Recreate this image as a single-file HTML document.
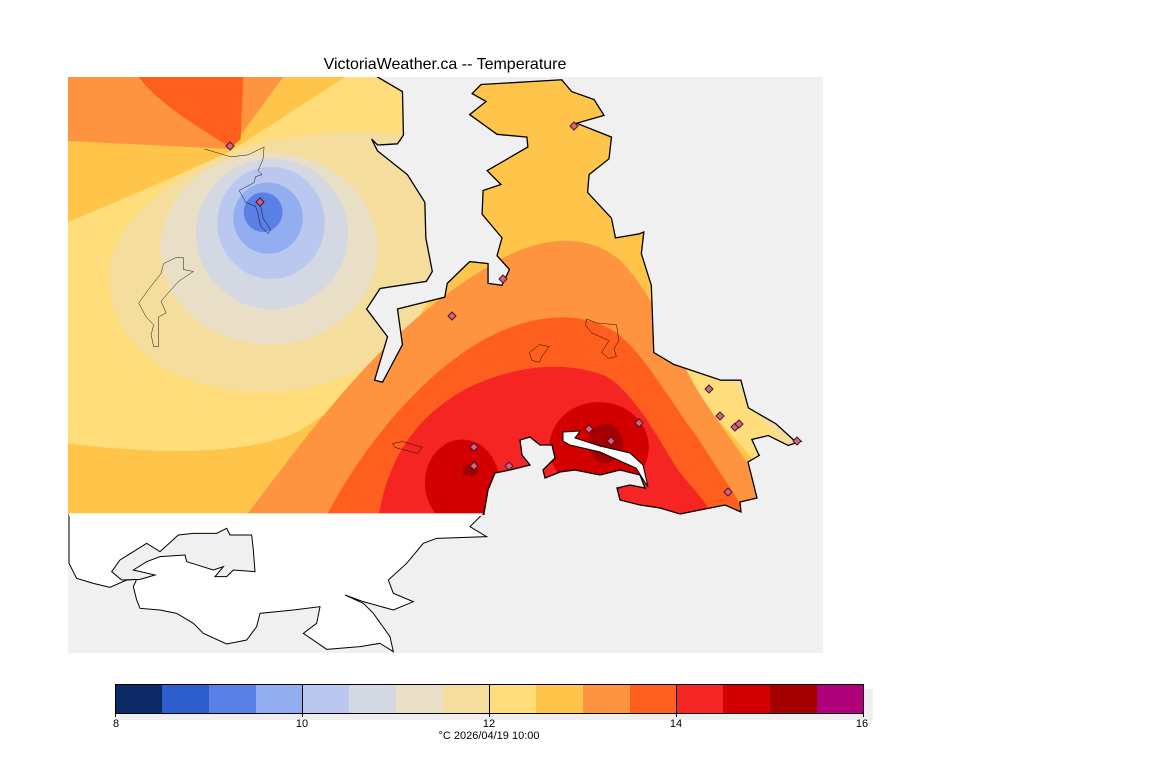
<!DOCTYPE html>
<html><head><meta charset="utf-8"><style>
html,body{margin:0;padding:0;background:#fff;width:1152px;height:768px;overflow:hidden}
svg{display:block;font-family:"Liberation Sans",sans-serif}
</style></head><body>
<svg width="1152" height="768" viewBox="0 0 1152 768" xmlns="http://www.w3.org/2000/svg">
<defs>
<clipPath id="top"><rect x="68" y="77" width="755" height="438"/></clipPath>
</defs>
<rect x="68" y="77" width="755" height="576" fill="#f0f0f0"/>
<g clip-path="url(#top)">
<g transform="translate(59.04,40.24) scale(0.4977,0.3953)">
<rect x="0" y="80" width="1560" height="1140" fill="#fec54a"/>
<path d="M18,93 L450,93 L345,275 L18,255 Z" fill="#fe943f"/>
<path d="M160,93 L370,93 L365,250 L345,272 C280,220 200,160 160,93 Z" fill="#fe5f1e"/>
<path d="M18,460 C150,390 280,320 345,280 L575,93 L720,93 C760,300 780,450 760,560 C720,760 600,900 480,990 C360,1060 150,1040 18,1020 Z" fill="#fedd7a"/>
<path d="M345,285 C420,240 620,210 730,250 L780,500 C760,700 650,880 420,890 C200,890 100,750 100,600 C100,450 250,330 345,285 Z" fill="#f5dd9e"/>
<ellipse cx="422" cy="527" rx="218" ry="242" fill="#e8dfc6"/>
<ellipse cx="428" cy="490" rx="153" ry="190" fill="#d3d8e3"/>
<ellipse cx="426" cy="462" rx="108" ry="142" fill="#bac8f0"/>
<ellipse cx="420" cy="450" rx="70" ry="90" fill="#93aef0"/>
<ellipse cx="410" cy="435" rx="39" ry="50" fill="#5a7fe6"/>
<path d="M1200,790 C1260,880 1330,960 1400,1070 L1560,1070 L1560,790 Z" fill="#fedd7a"/>
<path d="M1330,820 C1370,900 1410,960 1460,1020 L1560,1020 L1560,820 Z" fill="#f5dd9e"/>
<path d="M365,1220 C500,1000 650,720 880,560 C960,500 1060,480 1130,560 C1200,650 1240,800 1290,900 C1340,1000 1400,1080 1450,1220 Z" fill="#fe943f"/>
<path d="M530,1220 C620,1000 760,800 900,730 C980,690 1060,690 1120,740 C1180,800 1220,900 1280,1000 C1320,1080 1360,1150 1390,1220 Z" fill="#fe5f1e"/>
<path d="M640,1220 C660,1050 720,950 820,880 C920,820 1020,810 1100,850 C1160,900 1200,1000 1240,1080 C1260,1120 1300,1160 1320,1220 Z" fill="#f52524"/>
<ellipse cx="810" cy="1120" rx="75" ry="110" fill="#d30000"/>
<ellipse cx="1085" cy="1030" rx="100" ry="115" fill="#d30000"/>
<ellipse cx="1098" cy="1020" rx="35" ry="50" fill="#a50000"/>
<ellipse cx="826" cy="1088" rx="16" ry="16" fill="#a50000"/>
<path d="M640,93 L690,130 L692,240 L680,262 L640,265 L628,250 L640,280 L700,340 L735,410 L737,500 L750,585 L738,610 L645,628 L618,680 L660,750 L634,860 L650,865 L690,770 L680,680 L775,650 L780,615 L825,560 L862,565 L862,615 L890,620 L905,580 L880,545 L890,500 L850,440 L852,380 L888,365 L860,330 L942,270 L940,245 L880,238 L825,188 L858,155 L830,135 L848,112 L1010,100 L1030,130 L1075,150 L1095,190 L1040,210 L1110,245 L1105,300 L1065,340 L1062,385 L1110,450 L1118,500 L1165,490 L1175,485 L1170,540 L1190,620 L1195,790 L1235,820 L1330,860 L1370,860 L1385,930 L1440,970 L1475,1010 L1490,1015 L1465,1025 L1425,1000 L1392,1010 L1410,1060 L1560,1060 L1560,80 L640,80 Z" fill="#f0f0f0" stroke="#000" stroke-width="1.3" vector-effect="non-scaling-stroke"/>
<g fill="none" stroke="#000" stroke-width="1" vector-effect="non-scaling-stroke">
<path d="M292,275 L345,295 L380,290 L412,270 L410,300 L400,330 L408,340 L395,345 L392,360 L362,380 L375,410 L395,420 L400,440 L405,470 L420,490 L425,480 L410,450 L405,420"/>
<path d="M235,550 L250,550 L250,580 L270,585 L240,610 L205,660 L215,690 L200,700 L200,775 L190,775 L185,745 L190,720 L175,700 L160,665 L180,630 L205,590 L210,565 Z"/>
<path d="M670,1020 L690,1015 L730,1030 L720,1045 L690,1035 L675,1030 Z"/>
<path d="M965,770 L985,775 L970,800 L965,815 L950,810 L945,790 Z"/>
<path d="M1060,705 L1080,715 L1120,720 L1125,760 L1115,780 L1120,800 L1105,805 L1090,790 L1105,760 L1070,740 L1058,720 Z"/>
</g>
</g>
<path d="M840,452 L760,455 L748,462 L752,478 L757,498 L740,502 L741,512 L725,505 L700,510 L680,514 L660,508 L640,505 L620,500 L617,488 L630,485 L645,488 L640,475 L620,470 L600,475 L575,470 L560,472 L545,478 L543,470 L555,458 L552,445 L540,445 L530,437 L520,440 L522,455 L530,465 L510,470 L495,473 L488,490 L482,525 L840,525 Z" fill="#f0f0f0"/>
<path d="M760,455 L748,462 L752,478 L757,498 L740,502 L741,512 L725,505 L700,510 L680,514 L660,508 L640,505 L620,500 L617,488 L630,485 L645,488 L640,475 L620,470 L600,475 L575,470 L560,472 L545,478 L543,470 L555,458 L552,445 L540,445 L530,437 L520,440 L522,455 L530,465 L510,470 L495,473 L488,490 L482,525" fill="none" stroke="#000" stroke-width="1.3"/>
<path d="M563,432 L580,431 L575,438 L600,446 L630,453 L643,465 L648,487 L636,468 L600,452 L570,445 L563,441 Z" fill="#fff" stroke="#000" stroke-width="1"/>
</g>
<g transform="translate(60,500) scale(0.33333)">
<path d="M27,45 L1265,45 L1230,80 L1280,110 L1130,115 L1090,130 L1040,190 L985,240 L1000,280 L1060,305 L1000,330 L910,305 L855,285 L910,310 L940,340 L990,410 L1000,455 L960,430 L900,440 L800,448 L730,400 L770,370 L780,320 L700,330 L600,340 L590,380 L560,420 L500,432 L430,400 L400,370 L350,340 L300,330 L240,325 L230,300 L220,260 L230,238 L200,240 L150,262 L100,250 L50,235 L27,190 Z" fill="#fff" stroke="#000" stroke-width="1" vector-effect="non-scaling-stroke"/>
<rect x="27" y="40" width="1240" height="8" fill="#fff"/>
<path d="M155,215 L180,180 L260,130 L300,155 L355,105 L400,100 L470,100 L500,85 L510,105 L575,105 L580,150 L585,215 L520,210 L500,230 L465,230 L490,200 L460,210 L380,185 L375,165 L300,170 L260,185 L220,210 L285,225 L240,238 L185,240 Z" fill="#f0f0f0" stroke="#000" stroke-width="1" vector-effect="non-scaling-stroke"/>
</g>
<g fill="#e0607a" stroke="#3a1a3a" stroke-width="1">
<path d="M0,-4 L4,0 L0,4 L-4,0 Z" transform="translate(230,146)"/>
<path d="M0,-4 L4,0 L0,4 L-4,0 Z" transform="translate(574,126)"/>
<path d="M0,-4 L4,0 L0,4 L-4,0 Z" transform="translate(260,202)"/>
<path d="M0,-4 L4,0 L0,4 L-4,0 Z" transform="translate(503,279)"/>
<path d="M0,-4 L4,0 L0,4 L-4,0 Z" transform="translate(452,316)"/>
<path d="M0,-4 L4,0 L0,4 L-4,0 Z" transform="translate(709,389)"/>
<path d="M0,-4 L4,0 L0,4 L-4,0 Z" transform="translate(720,416)"/>
<path d="M0,-4 L4,0 L0,4 L-4,0 Z" transform="translate(735,427)"/>
<path d="M0,-4 L4,0 L0,4 L-4,0 Z" transform="translate(739,424)"/>
<path d="M0,-4 L4,0 L0,4 L-4,0 Z" transform="translate(797,441)"/>
<path d="M0,-4 L4,0 L0,4 L-4,0 Z" transform="translate(474,447)"/>
<path d="M0,-4 L4,0 L0,4 L-4,0 Z" transform="translate(474,466)"/>
<path d="M0,-4 L4,0 L0,4 L-4,0 Z" transform="translate(509,466)"/>
<path d="M0,-4 L4,0 L0,4 L-4,0 Z" transform="translate(589,429)"/>
<path d="M0,-4 L4,0 L0,4 L-4,0 Z" transform="translate(611,441)"/>
<path d="M0,-4 L4,0 L0,4 L-4,0 Z" transform="translate(639,423)"/>
<path d="M0,-4 L4,0 L0,4 L-4,0 Z" transform="translate(728,492)"/>
</g>
<text x="445" y="69" text-anchor="middle" font-size="16" fill="#000">VictoriaWeather.ca -- Temperature</text>
<rect x="120" y="689" width="753" height="31" fill="#efefef"/>
<g stroke="none">
<rect x="115" y="684" width="47" height="29" fill="#0b2a66"/>
<rect x="162" y="684" width="47" height="29" fill="#2e5fcc"/>
<rect x="209" y="684" width="47" height="29" fill="#5a7fe6"/>
<rect x="256" y="684" width="47" height="29" fill="#93aef0"/>
<rect x="302" y="684" width="47" height="29" fill="#bac8f0"/>
<rect x="349" y="684" width="47" height="29" fill="#d3d8e3"/>
<rect x="396" y="684" width="47" height="29" fill="#e8dfc6"/>
<rect x="443" y="684" width="47" height="29" fill="#f5dd9e"/>
<rect x="489" y="684" width="47" height="29" fill="#fedd7a"/>
<rect x="536" y="684" width="47" height="29" fill="#fec54a"/>
<rect x="583" y="684" width="47" height="29" fill="#fe943f"/>
<rect x="630" y="684" width="47" height="29" fill="#fe5f1e"/>
<rect x="676" y="684" width="47" height="29" fill="#f52524"/>
<rect x="723" y="684" width="47" height="29" fill="#d30000"/>
<rect x="770" y="684" width="47" height="29" fill="#a50000"/>
<rect x="817" y="684" width="46" height="29" fill="#b0007a"/>
</g>
<rect x="115.5" y="684.5" width="748" height="29" fill="none" stroke="#000" stroke-width="1"/>
<g stroke="#000" stroke-width="1">
<line x1="302.5" y1="684" x2="302.5" y2="717"/>
<line x1="489.5" y1="684" x2="489.5" y2="717"/>
<line x1="676.5" y1="684" x2="676.5" y2="717"/>
<line x1="115.5" y1="713" x2="115.5" y2="717"/>
<line x1="863.5" y1="713" x2="863.5" y2="717"/>
</g>
<g font-size="11" text-anchor="middle" fill="#000">
<text x="116" y="727">8</text>
<text x="302" y="727">10</text>
<text x="489" y="727">12</text>
<text x="676" y="727">14</text>
<text x="862" y="727">16</text>
<text x="489" y="739">°C  2026/04/19 10:00</text>
</g>
</svg>
</body></html>
